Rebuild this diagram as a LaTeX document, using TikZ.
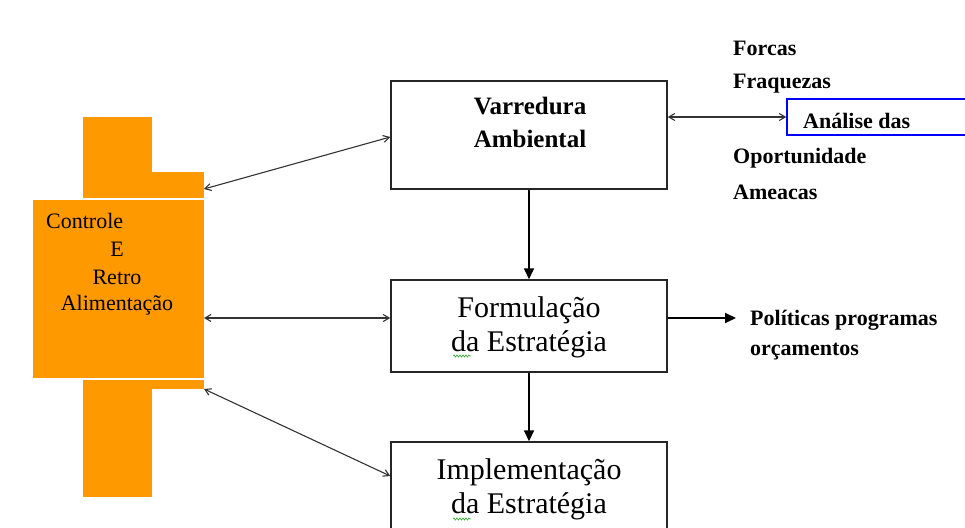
\documentclass[tikz,border=0pt]{standalone}
\usepackage{fontspec}
\setmainfont{Liberation Serif}
\usetikzlibrary{arrows.meta,decorations.pathmorphing}
\definecolor{orng}{RGB}{255,153,0}
\definecolor{sqg}{RGB}{60,170,60}
\tikzset{
  stagebox/.style={draw=black!85, line width=1.5pt, inner sep=0pt},
  dbl/.style={{Straight Barb[length=6pt,width=7pt]}-{Straight Barb[length=6pt,width=7pt]}, line width=1.1pt, black!80},
  flow/.style={-{Triangle[length=11pt,width=10pt]}, line width=1.8pt},
  big/.style={font=\fontsize{30}{34}\selectfont, align=center, inner sep=0pt},
  bigb/.style={font=\fontsize{25}{33}\selectfont\bfseries, align=center, inner sep=0pt},
  side/.style={font=\fontsize{22}{30}\selectfont\bfseries, anchor=west, inner sep=0pt},
  ctl/.style={font=\fontsize{22}{28}\selectfont, inner sep=0pt},
  squig/.style={sqg, line width=0.7pt, decorate, decoration={snake, segment length=3pt, amplitude=1pt}}
}
\begin{document}
\begin{tikzpicture}[x=1pt,y=-1pt]
\useasboundingbox (0,0) rectangle (965,527);
\clip (0,0) rectangle (965,527);
\fill[white] (0,0) rectangle (965,527);
% orange control block
\fill[orng, draw=white, line width=0.6pt] (82,116) -- (152,116) -- (152,171) -- (204,171) -- (204,198) -- (82,198) -- cycle;
\fill[orng, draw=white, line width=0.6pt] (32,199) rectangle (204,378);
\fill[orng, draw=white, line width=0.6pt] (82,379) -- (204,379) -- (204,389) -- (152,389) -- (152,497) -- (82,497) -- cycle;
\node[ctl, anchor=west] (t1) at (46,221) {Controle};
\node[ctl] (t2) at (117,249) {E};
\node[ctl] (t3) at (117,277) {Retro};
\node[ctl] (t4) at (117,305) {Alimentação};
\coordinate (o1) at (204,189);
\coordinate (o2) at (204,318);
\coordinate (o3) at (204,389);
% boxes
\node[stagebox, minimum width=276pt, minimum height=108pt] (varr) at (529,135) {};
\node[bigb] (varrt) at (530,122) {Varredura\\Ambiental};
\node[stagebox, minimum width=276pt, minimum height=92pt] (form) at (529,326) {};
\node[big] (formt) at (529,327) {Formulação\\da Estratégia};
\node[stagebox, minimum width=276pt, minimum height=98pt] (impl) at (529,491) {};
\node[big] (implt) at (529,489) {Implementação\\da Estratégia};
% blue box
\node[draw=blue, line width=1.4pt, minimum width=190pt, minimum height=36pt, inner sep=0pt] (anal) at (882,117) {};
\node[side] (analt) at (803,121) {Análise das};
% side texts
\node[side] (f1) at (733,48) {Forcas};
\node[side] (f2) at (733,84) {Fraquezas};
\node[side] (f3) at (733,158) {Oportunidade};
\node[side] (f4) at (733,192) {Ameacas};
\node[side, align=left] (pol) at (750,335) {Políticas programas\\orçamentos};
\coordinate (pe) at (736,318);
% connectors
\draw[dbl] (o1) -- ([yshift=-2pt]varr.west);
\draw[dbl] (o2) -- ([yshift=8pt]form.west);
\draw[dbl] (o3) -- ([yshift=15pt]impl.west);
\draw[dbl] ([yshift=18pt]varr.east) -- (anal.west);
\draw[flow] (varr.south) -- (form.north);
\draw[flow] (form.south) -- (impl.north);
\draw[flow] ([yshift=8pt]form.east) -- (pe);
% spell-check squiggles
\draw[squig] (453,356) -- (471,356);
\draw[squig] (453,519) -- (471,519);
\end{tikzpicture}
\end{document}
